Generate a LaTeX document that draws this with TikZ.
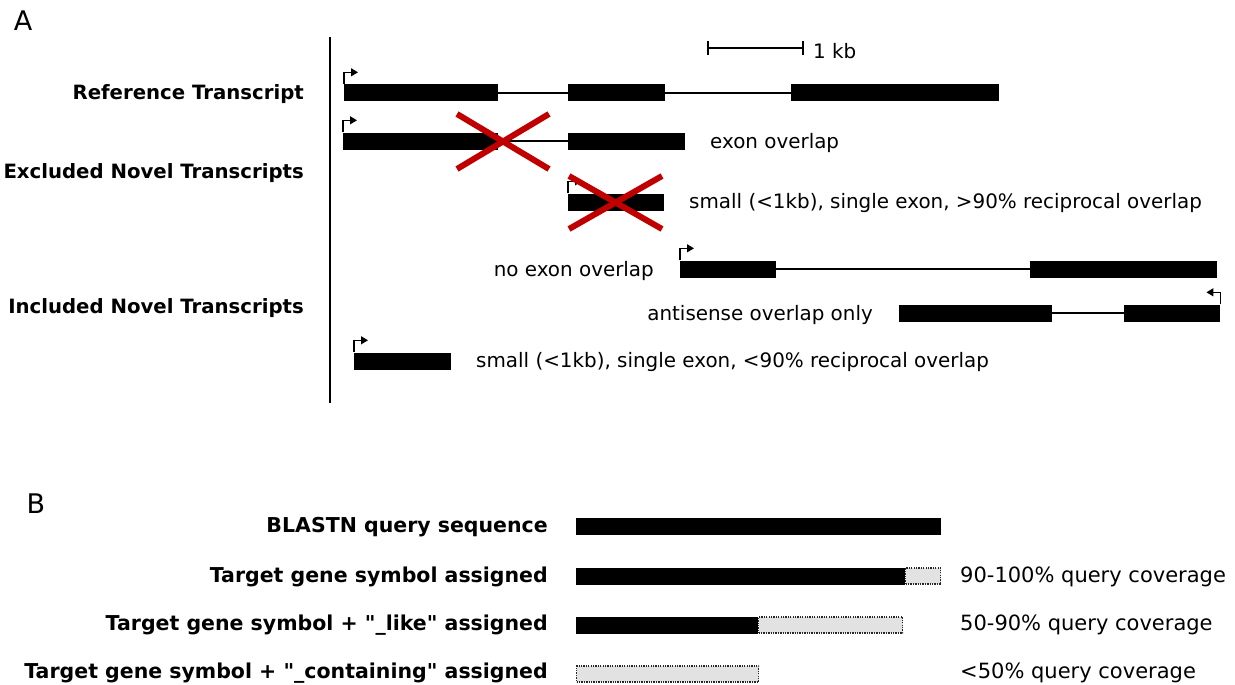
\documentclass[tikz,border=0pt]{standalone}
\usepackage{fontspec}
\setmainfont{DejaVu Sans}
\usetikzlibrary{arrows.meta}
\definecolor{xred}{HTML}{C00000}
\definecolor{partgrey}{HTML}{E2E2E2}
\newcommand\sq{\XeTeXglyph\XeTeXcharglyph"22\relax}
\tikzset{
  exon/.style={fill=black, draw=none, minimum height=17pt, inner sep=0pt, anchor=west},
  partial/.style={fill=partgrey, draw=black!85, line width=1.3pt, dash pattern=on 1.3pt off 1.1pt, minimum height=16pt, inner sep=0pt, anchor=west},
  intron/.style={line width=1.4pt},
  tss/.style={line width=1.4pt, -{Triangle[length=7pt,width=8pt]}},
  cross/.style={xred, line width=6pt},
  lab/.style={font=\fontsize{19.7}{22}\selectfont\bfseries, anchor=east, inner sep=0pt},
  labB/.style={font=\fontsize{20.5}{23}\selectfont\bfseries, anchor=east, inner sep=0pt},
  txt/.style={font=\fontsize{19.9}{22}\selectfont, anchor=west, inner sep=0pt},
  txtB/.style={font=\fontsize{21}{24}\selectfont, anchor=west, inner sep=0pt},
  panel/.style={font=\fontsize{27}{30}\selectfont, inner sep=0pt}
}
\begin{document}
\begin{tikzpicture}[x=1pt,y=-1pt]
\useasboundingbox (0,0) rectangle (1235,685);
% panel letters
\node[panel] (A) at (23,21) {A};
\node[panel] (B) at (36,504) {B};
% divider
\coordinate (dtop) at (330,37);
\coordinate (dbot) at (330,403);
\draw[line width=1.4pt] (dtop) -- (dbot);
% scale bar
\coordinate (sb1) at (708,48);
\coordinate (sb2) at (803,48);
\draw[line width=1.4pt] (sb1) -- (sb2);
\draw[line width=1.4pt] ([yshift=-7pt]sb1) -- ([yshift=7pt]sb1);
\draw[line width=1.4pt] ([yshift=-7pt]sb2) -- ([yshift=7pt]sb2);
\node[txt] (kb) at (813,51) {1 kb};
% labels
\node[lab] (lref) at (304,94) {Reference Transcript};
\node[lab] (lexc) at (304,173) {Excluded Novel Transcripts};
\node[lab] (linc) at (304,308) {Included Novel Transcripts};
% Reference transcript
\node[exon, minimum width=154pt] (r1a) at (344,93) {};
\node[exon, minimum width=97pt] (r1b) at (568,93) {};
\node[exon, minimum width=208pt] (r1c) at (791,93) {};
\draw[intron] (r1a.east) -- (r1b.west);
\draw[intron] (r1b.east) -- (r1c.west);
\draw[tss] (r1a.north west) -- ++(0,-12) -- ++(14,0);
% exon overlap
\node[exon, minimum width=155pt] (e1a) at (343,141) {};
\node[exon, minimum width=117pt] (e1b) at (568,141) {};
\draw[intron] (e1a.east) -- (e1b.west);
\draw[tss] (e1a.north west) -- ++(0,-12) -- ++(14,0);
\node[txt] (t1) at (710,143) {exon overlap};
\draw[cross] (457,114) -- (549,169);
\draw[cross] (549,114) -- (457,169);
% small excluded
\node[exon, minimum width=96pt] (e2a) at (568,202) {};
\draw[tss] (e2a.north west) -- ++(0,-12) -- ++(14,0);
\node[txt] (t2) at (689,203) {small (<1kb), single exon, >90\% reciprocal overlap};
\draw[cross] (569,176) -- (662,229);
\draw[cross] (662,176) -- (569,229);
% no exon overlap
\node[exon, minimum width=96pt] (i1a) at (680,269) {};
\node[exon, minimum width=187pt] (i1b) at (1030,269) {};
\draw[intron] (i1a.east) -- (i1b.west);
\draw[tss] (i1a.north west) -- ++(0,-12) -- ++(14,0);
\node[txt, anchor=east] (t3) at (654,271) {no exon overlap};
% antisense
\node[exon, minimum width=153pt] (i2a) at (899,313) {};
\node[exon, minimum width=96pt] (i2b) at (1124,313) {};
\draw[intron] (i2a.east) -- (i2b.west);
\draw[tss] (i2b.north east) -- ++(0,-12) -- ++(-14,0);
\node[txt, anchor=east] (t4) at (873,315) {antisense overlap only};
% small included
\node[exon, minimum width=97pt] (i3a) at (354,361) {};
\draw[tss] (i3a.north west) -- ++(0,-12) -- ++(14,0);
\node[txt] (t5) at (476,362) {small (<1kb), single exon, <90\% reciprocal overlap};
% Panel B
\node[labB] (b1) at (548,527) {BLASTN query sequence};
\node[labB] (b2) at (548,577) {Target gene symbol assigned};
\node[labB] (b3) at (548,625) {Target gene symbol + \sq\_like\sq{} assigned};
\node[labB] (b4) at (548,673) {Target gene symbol + \sq\_containing\sq{} assigned};
\node[exon, minimum width=365pt] (q1) at (576,526) {};
\node[partial, minimum width=35pt] (q2g) at (905,576) {};
\node[exon, minimum width=329pt] (q2) at (576,576) {};
\node[partial, minimum width=144pt] (q3g) at (758,625) {};
\node[exon, minimum width=182pt] (q3) at (576,625) {};
\node[partial, minimum width=182pt] (q4g) at (576,674) {};
\node[txtB] (c2) at (960,577) {90-100\% query coverage};
\node[txtB] (c3) at (960,625) {50-90\% query coverage};
\node[txtB] (c4) at (960,673) {<50\% query coverage};
\end{tikzpicture}
\end{document}
